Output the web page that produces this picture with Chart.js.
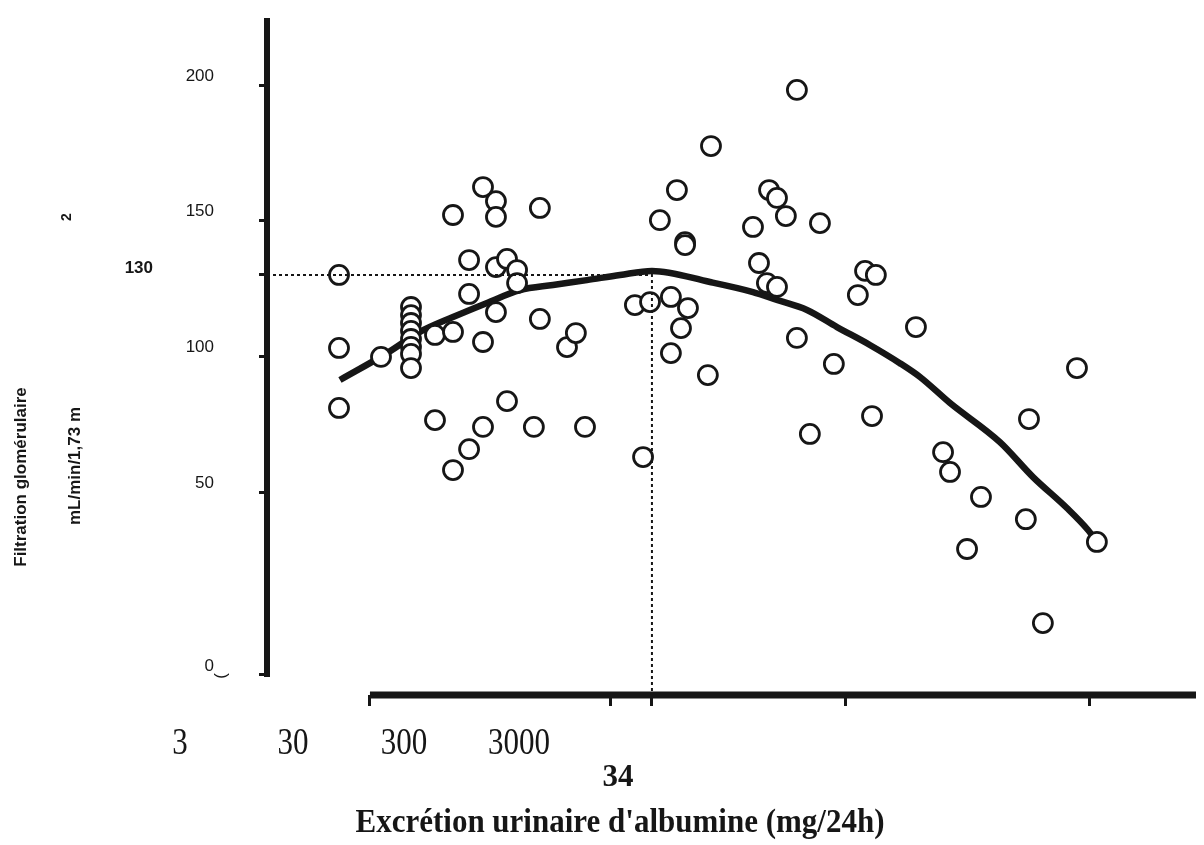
<!DOCTYPE html>
<html lang="fr">
<head>
<meta charset="utf-8">
<title>Filtration glomérulaire et excrétion urinaire d'albumine</title>
<script src="https://cdn.jsdelivr.net/npm/chart.js@4.4.1/dist/chart.umd.min.js"></script>
<style>
    html, body { margin: 0; padding: 0; background: #fff; }
    #wrap { width: 1204px; height: 845px; }
</style>
</head>
<body>
<div id="wrap"><canvas id="mainChart" width="1204" height="845"></canvas></div>
<script>
// x : log10 de l'excrétion urinaire d'albumine, y : filtration glomérulaire
const albuminLog = [
    0.348, 0.348, 0.348, 0.523,
    0.648, 0.648, 0.648, 0.648, 0.648, 0.648, 0.648, 0.648,
    0.748, 0.823, 0.748, 0.823, 0.823, 0.890, 0.890, 0.890,
    0.948, 0.948, 0.948, 1.002, 1.002, 1.002, 1.002, 1.048, 1.048,
    1.090, 1.090, 1.185, 1.185, 1.160, 1.298, 1.335, 1.373,
    1.615, 1.581, 1.644, 1.731, 1.802, 1.773, 1.731, 1.885,
    1.790, 1.790, 1.685, 1.756, 1.898,
    2.073, 2.140, 2.173, 2.210, 2.352, 2.098, 2.131, 2.173,
    2.256, 2.410, 2.256, 2.310,
    2.540, 2.585, 2.510, 2.752, 2.569,
    3.423, 3.223, 2.865, 2.894, 3.023, 3.210, 2.965, 3.506, 3.281
];
const gfrValues = [
    130.0, 103.1, 81.0, 99.8,
    118.2, 115.2, 112.3, 109.4, 106.4, 103.5, 100.9, 95.7,
    107.9, 109.0, 76.5, 152.1, 58.1, 135.5, 123.0, 65.8,
    162.4, 105.3, 74.0, 157.2, 151.4, 116.3, 132.9, 135.9, 83.5,
    131.8, 127.0, 154.7, 113.8, 74.0, 103.4, 108.6, 74.0,
    62.9, 118.9, 120.0, 121.9, 117.8, 110.4, 101.2, 93.1,
    142.1, 141.0, 150.2, 161.3, 177.5,
    147.7, 161.3, 158.4, 151.7, 149.1, 134.4, 127.0, 125.6,
    106.8, 97.2, 198.2, 71.4,
    131.5, 130.0, 122.6, 110.8, 78.0,
    95.7, 76.9, 64.7, 57.4, 48.2, 40.0, 29.0, 31.6, 1.7
];

// courbe de tendance
const curveLog = [0.352, 0.548, 0.685, 0.823, 0.965, 1.102, 1.240, 1.381, 1.519, 1.652,
    1.894, 2.073, 2.173, 2.298, 2.423, 2.560, 2.685, 2.769, 2.894, 3.102, 3.240, 3.381, 3.469, 3.506];
const curveGfr = [91.3, 101.2, 109.0, 114.5, 119.7, 124.4, 126.3, 128.1, 130.0, 131.5,
    127.4, 123.7, 120.8, 117.1, 110.8, 104.2, 97.5, 92.4, 82.8, 68.4, 55.5, 44.1, 36.0, 31.6];

const peakLog = 1.652;
const peakGfr = 130;

const yTickValues = [-17.4, 50, 100, 130, 150, 200];
const yTickLabels = ['0', '50', '100', '', '150', '200'];
const xTickValues = [0.477, 1.48, 1.652, 2.46, 3.477];
const xLabels = ['3', '30', '300', '3000'];
const peakXLabel = '34';
const peakYLabel = '130';

const X_MIN = 0.048, X_MAX = 3.919;
const Y_MIN = -24.8, Y_MAX = 224.7;

const SANS = '"Liberation Sans", Arial, sans-serif';
const SERIF = '"Liberation Serif", "Times New Roman", serif';
const INK = '#161616';

function stretchedText(ctx, text, x, y, font, sy) {
    ctx.save();
    ctx.font = font;
    ctx.translate(x, y);
    ctx.scale(1, sy);
    ctx.fillText(text, 0, 0);
    ctx.restore();
}

function rotatedText(ctx, text, x, y, font) {
    ctx.save();
    ctx.font = font;
    ctx.translate(x, y);
    ctx.rotate(-Math.PI / 2);
    ctx.textAlign = 'center';
    ctx.textBaseline = 'middle';
    ctx.fillText(text, 0, 0);
    ctx.restore();
}

const axisLines = {
    id: 'axisLines',
    beforeDatasetsDraw(chart) {
        const { ctx, chartArea, scales: { x, y } } = chart;
        ctx.save();
        ctx.strokeStyle = INK;
        ctx.lineCap = 'butt';
        ctx.lineWidth = 6;
        ctx.beginPath();
        ctx.moveTo(chartArea.left, chartArea.top);
        ctx.lineTo(chartArea.left, y.getPixelForValue(yTickValues[0]) + 2);
        ctx.stroke();
        ctx.lineWidth = 7;
        ctx.beginPath();
        ctx.moveTo(x.getPixelForValue(xTickValues[0]), chartArea.bottom);
        ctx.lineTo(chartArea.right, chartArea.bottom);
        ctx.stroke();
        ctx.restore();
    }
};

const labelsPlugin = {
    id: 'labelsPlugin',
    afterDraw(chart) {
        const { ctx, scales: { y } } = chart;
        ctx.save();
        ctx.fillStyle = INK;

        // étiquette de la valeur seuil sur l'axe y
        ctx.font = 'bold 17px ' + SANS;
        ctx.textAlign = 'right';
        ctx.textBaseline = 'middle';
        ctx.fillText(peakYLabel, 153, y.getPixelForValue(peakGfr) - 7);

        // titre de l'axe y
        rotatedText(ctx, 'Filtration glomérulaire', 21, 477, 'bold 17px ' + SANS);
        rotatedText(ctx, 'mL/min/1,73 m', 75, 466, 'bold 17px ' + SANS);
        rotatedText(ctx, '2', 67, 217, 'bold 14px ' + SANS);
        rotatedText(ctx, '(', 221, 676, '17px ' + SANS);

        // étiquettes de l'axe x
        ctx.textAlign = 'center';
        ctx.textBaseline = 'alphabetic';
        const xPos = [180, 293, 404, 519];
        xLabels.forEach((t, i) => stretchedText(ctx, t, xPos[i], 754, '31px ' + SERIF, 1.25));
        stretchedText(ctx, peakXLabel, 618, 786, 'bold 31px ' + SERIF, 1.05);
        stretchedText(ctx, "Excrétion urinaire d'albumine (mg/24h)", 620, 832, 'bold 31px ' + SERIF, 1.1);
        ctx.restore();
    }
};

const ctx = document.getElementById('mainChart').getContext('2d');
new Chart(ctx, {
    type: 'scatter',
    data: {
        datasets: [
            {
                type: 'line',
                data: [{ x: X_MIN, y: peakGfr }, { x: peakLog, y: peakGfr }, { x: peakLog, y: Y_MIN }],
                borderColor: INK,
                borderWidth: 2,
                borderDash: [3, 3],
                pointRadius: 0,
                tension: 0,
                fill: false,
                order: 0
            },
            {
                data: albuminLog.map((v, i) => ({ x: v, y: gfrValues[i] })),
                pointRadius: 9.5,
                pointBorderWidth: 2.8,
                borderColor: INK,
                backgroundColor: '#ffffff',
                order: 1
            },
            {
                type: 'line',
                data: curveLog.map((v, i) => ({ x: v, y: curveGfr[i] })),
                borderColor: INK,
                borderWidth: 6.5,
                pointRadius: 0,
                cubicInterpolationMode: 'monotone',
                fill: false,
                order: 2
            }
        ]
    },
    options: {
        responsive: false,
        animation: false,
        layout: { autoPadding: false, padding: { left: 0, right: 8, top: 18, bottom: 0 } },
        plugins: {
            legend: { display: false },
            tooltip: { enabled: false }
        },
        scales: {
            x: {
                type: 'linear',
                min: X_MIN,
                max: X_MAX,
                afterBuildTicks: s => { s.ticks = xTickValues.map(v => ({ value: v })); },
                afterFit: s => { s.height = 150; s.paddingLeft = 0; s.paddingRight = 0; },
                ticks: { display: false },
                border: { display: false },
                grid: { drawOnChartArea: false, drawTicks: true, tickLength: 11, tickWidth: 3, color: INK }
            },
            y: {
                type: 'linear',
                min: Y_MIN,
                max: Y_MAX,
                afterBuildTicks: s => { s.ticks = yTickValues.map(v => ({ value: v })); },
                afterFit: s => { s.width = 267; s.paddingTop = 0; s.paddingBottom = 0; },
                ticks: {
                    callback: (v, i) => yTickLabels[i],
                    padding: 45,
                    labelOffset: -9,
                    color: INK,
                    font: { family: SANS, size: 17 }
                },
                border: { display: false },
                grid: { drawOnChartArea: false, drawTicks: true, tickLength: 8, tickWidth: 3, color: INK }
            }
        }
    },
    plugins: [axisLines, labelsPlugin]
});
</script>
</body>
</html>
